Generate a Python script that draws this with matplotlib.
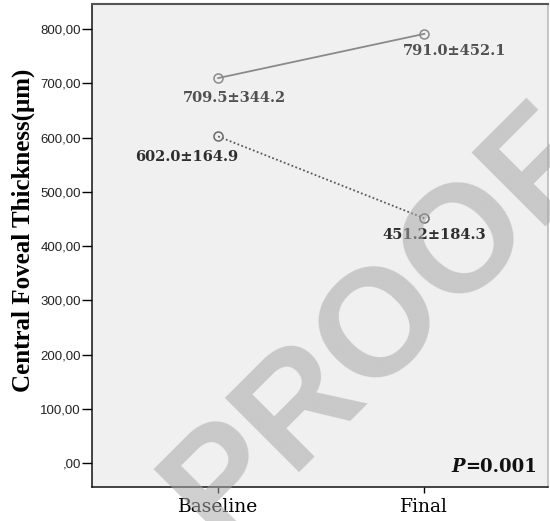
import matplotlib
matplotlib.use("Agg")
import matplotlib.pyplot as plt

# ------------------------------------------------------------
# data
# ------------------------------------------------------------
visits = ["Baseline", "Final"]
upper_mean = [709.5, 791.0]
upper_sd = [344.2, 452.1]
lower_mean = [602.0, 451.2]
lower_sd = [164.9, 184.3]
yticks = [0, 100, 200, 300, 400, 500, 600, 700, 800]
ytick_labels = [",00", "100,00", "200,00", "300,00", "400,00",
                "500,00", "600,00", "700,00", "800,00"]
p_text = "=0.001"

fig = plt.figure(figsize=(5.5, 5.21), dpi=100)
ax = fig.add_axes([92 / 550, 1 - 487 / 521, (548 - 92) / 550, (487 - 4) / 521])
ax.set_facecolor("#f0f0f0")

x = list(range(len(visits)))
ax.plot(x, upper_mean, "-", color="#8a8a8a", lw=1.3,
        marker="o", ms=6.5, mfc="none", mec="#8a8a8a", mew=1.1)
ax.plot(x, lower_mean, color="#5a5a5a", lw=1.3, dashes=(1, 1.3),
        marker="o", ms=6.5, mfc="none", mec="#6a6a6a", mew=1.1)

ax.set_xlim(-0.612, 1.60)
ax.set_ylim(-44, 846)
ax.set_xticks(x)
ax.set_xticklabels(visits, family="DejaVu Serif", fontsize=13.5)
ax.set_yticks(yticks)
ax.set_yticklabels(ytick_labels, family="Liberation Sans", fontsize=9.5, color="#222222")
ax.tick_params(axis="y", length=7, width=1, direction="out", pad=1)
ax.tick_params(axis="x", length=4, width=1, direction="out", pad=4)

ax.set_ylabel("Central Foveal Thickness(μm)", family="Liberation Serif",
              fontweight="bold", fontsize=18)
ax.yaxis.set_label_coords(-0.125, 0.532)

for side in ["left", "bottom"]:
    ax.spines[side].set_color("#111111")
    ax.spines[side].set_linewidth(1.1)
ax.spines["top"].set_color("#555555")
ax.spines["top"].set_linewidth(1.5)
ax.spines["right"].set_color("#bbbbbb")
ax.spines["right"].set_linewidth(1.2)

# value labels (offset in points from each marker)
lab_kw = dict(textcoords="offset points", family="DejaVu Serif",
              fontweight="bold", fontsize=10.5, ha="center", va="center")
offsets_up = [(12, -14), (22, -12)]
offsets_lo = [(-23, -15), (7, -12)]
for i in x:
    ax.annotate(f"{upper_mean[i]:.1f}±{upper_sd[i]:.1f}", (i, upper_mean[i]),
                xytext=offsets_up[i], color="#505050", **lab_kw)
    ax.annotate(f"{lower_mean[i]:.1f}±{lower_sd[i]:.1f}", (i, lower_mean[i]),
                xytext=offsets_lo[i], color="#2e2e2e", **lab_kw)

# P value, italic P
t = ax.text(0.975, 0.042, p_text, transform=ax.transAxes, ha="right", va="center",
            family="DejaVu Serif", fontweight="bold", fontsize=13, color="#111111")
ax.annotate("P", xy=(0, 0.5), xycoords=t, ha="right", va="center",
            family="DejaVu Serif", fontweight="bold", style="italic",
            fontsize=13, color="#111111")

# watermark (runs off the edges, as in the reference)
fig.text(382 / 550, 1 - 324 / 521, "PROOF", rotation=45, ha="center", va="center",
         rotation_mode="anchor", family="Liberation Sans", fontweight="bold",
         fontsize=110, color="#a8a8a8", alpha=0.55, zorder=10)

fig.savefig("out.png", dpi=100)
